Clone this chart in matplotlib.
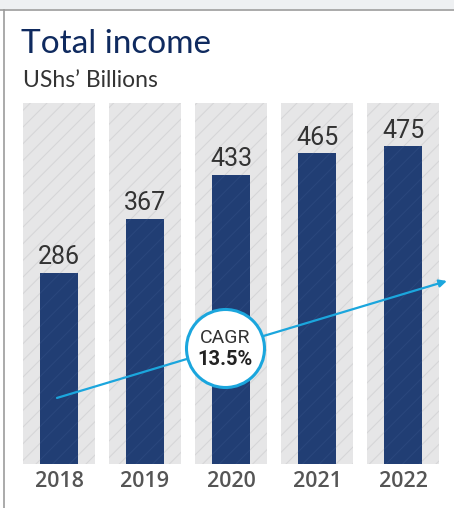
import matplotlib
matplotlib.use("Agg")
import matplotlib.pyplot as plt
from matplotlib.patches import Rectangle

plt.rcParams["font.family"] = ["Open Sans", "DejaVu Sans"]
plt.rcParams["hatch.linewidth"] = 0.8

years = ["2018", "2019", "2020", "2021", "2022"]
income = [286, 367, 433, 465, 475]
cagr_text = "13.5%"

NAVY = "#213e74"
CYAN = "#1ba6dd"
W, H = 454, 508

fig = plt.figure(figsize=(W / 100, H / 100), dpi=100)
fig.patch.set_facecolor("white")

# grey strip and frame lines along the top and left edge
fig.add_artist(Rectangle((0, 1 - 9 / H), 1, 9 / H, transform=fig.transFigure,
                         facecolor="#eef0f2", edgecolor="none", zorder=0))
fig.add_artist(plt.Line2D([0, 1], [1 - 9.5 / H] * 2, transform=fig.transFigure,
                          color="#9c9c9c", lw=1.2))
fig.add_artist(plt.Line2D([3.5 / W] * 2, [0, 1 - 9.5 / H], transform=fig.transFigure,
                          color="#9c9c9c", lw=1.2))

fig.text(21 / W, 1 - 53 / H, "Total income", fontsize=24, color="#0f2a5f",
         ha="left", va="baseline", family=["Lato", "DejaVu Sans"])
fig.text(23 / W, 1 - 87 / H, "UShs\u2019 Billions", fontsize=16.5, color="#333333",
         ha="left", va="baseline", family=["Lato", "DejaVu Sans"])

ax = fig.add_axes([23 / W, (H - 464) / H, 416 / W, 361 / H])
x = list(range(len(years)))
ymax = 540

# hatched backdrop columns, then the value bars on top
ax.bar(x, [ymax] * len(x), width=0.837, color="#e6e6e7", edgecolor="#d6d6d8",
       hatch="//", linewidth=0, zorder=1)
bars = ax.bar(x, income, width=0.453, color=NAVY, edgecolor="#2a477d",
              hatch="//", linewidth=0, zorder=2)

for xi, v in zip(x, income):
    ax.annotate(str(v), (xi, v), xytext=(0, 6), textcoords="offset points",
                ha="center", va="baseline", fontsize=18, color="#333333",
                family=["Roboto", "DejaVu Sans"], zorder=3)

ax.set_xlim(-0.4186, 4.4186)
ax.set_ylim(0, ymax)
ax.set_xticks(x)
ax.set_xticklabels(years, fontsize=15.5, color="#555555", fontweight="semibold")
ax.tick_params(axis="x", length=0, pad=5)
ax.set_yticks([])
for s in ax.spines.values():
    s.set_visible(False)
ax.patch.set_alpha(0)

# CAGR trend arrow with the badge on it
ax.annotate("", xy=(1.019, 0.507), xytext=(0.0817, 0.183), xycoords="axes fraction",
            arrowprops=dict(arrowstyle="-|>", color=CYAN, lw=1.6, mutation_scale=11,
                            shrinkA=0, shrinkB=0), zorder=4)
ax.scatter([0.4856], [0.321], s=(78 * 0.72) ** 2, transform=ax.transAxes,
           facecolor="white", edgecolor=CYAN, linewidth=2.2, zorder=5, clip_on=False)
ax.text(0.4856, 0.321 + 0.002, "CAGR", transform=ax.transAxes, ha="center",
        va="bottom", fontsize=14, color="#333333", zorder=6,
        family=["Roboto", "DejaVu Sans"])
ax.text(0.4856, 0.321 - 0.006, cagr_text, transform=ax.transAxes, ha="center",
        va="top", fontsize=14.5, color="#222222", fontweight="bold", zorder=6,
        family=["Roboto", "DejaVu Sans"])

fig.savefig("out.png", dpi=100)
